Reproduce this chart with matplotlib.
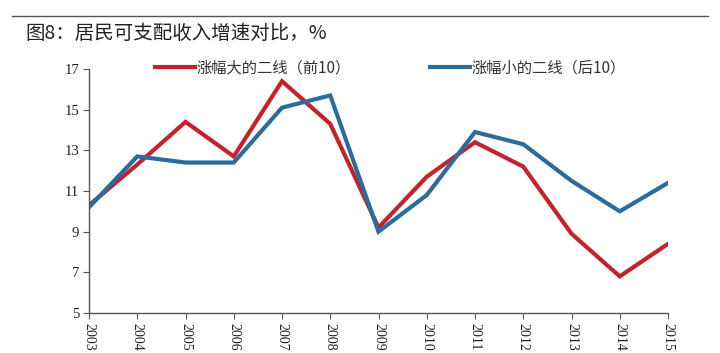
import matplotlib
matplotlib.use("Agg")
import matplotlib.pyplot as plt
from matplotlib.lines import Line2D

years = list(range(2003, 2016))
top10 = [10.3, 12.3, 14.4, 12.7, 16.4, 14.3, 9.2, 11.7, 13.4, 12.2, 8.9, 6.8, 8.4]
bottom10 = [10.2, 12.7, 12.4, 12.4, 15.1, 15.7, 9.0, 10.8, 13.9, 13.3, 11.5, 10.0, 11.4]
labels = ["涨幅大的二线（前10）", "涨幅小的二线（后10）"]
title = "图8：居民可支配收入增速对比，%"

RED = "#c4232b"
BLUE = "#2b6c9c"
CJK = ["Noto Sans CJK SC", "DejaVu Sans"]
SERIF = ["Liberation Serif", "DejaVu Serif"]

fig = plt.figure(figsize=(7.2, 3.53), dpi=100)
ax = fig.add_axes([89 / 720, 40 / 353, 579 / 720, 244 / 353])

ax.plot(years, top10, color=RED, lw=3, solid_joinstyle="miter", label=labels[0])
ax.plot(years, bottom10, color=BLUE, lw=3, solid_joinstyle="miter", label=labels[1])

ax.set_xlim(2003, 2015)
ax.set_ylim(5, 17)
ax.set_yticks(range(5, 18, 2))
ax.set_xticks(years)
ax.set_xticklabels([str(y) for y in years], rotation=270, family=SERIF, fontsize=10)
for t in ax.get_yticklabels():
    t.set_family(SERIF)
    t.set_fontsize(10.5)

for s in ("top", "right"):
    ax.spines[s].set_visible(False)
for s in ("left", "bottom"):
    ax.spines[s].set_color("#555555")
    ax.spines[s].set_linewidth(1)
ax.tick_params(axis="both", direction="out", length=4, width=0.8,
               color="#555555", labelcolor="#222222", pad=3)

handles = [Line2D([], [], color=RED, lw=3), Line2D([], [], color=BLUE, lw=3)]
leg = fig.legend(handles, labels, loc="center left",
                 bbox_to_anchor=(155 / 720, 285 / 353), ncol=2, frameon=False,
                 prop={"family": CJK, "size": 11}, handlelength=2.6,
                 handletextpad=0.12, columnspacing=5.2, borderpad=0,
                 borderaxespad=0)
for t in leg.get_texts():
    t.set_color("#333333")

fig.text(25 / 720, 1 - 33 / 353, title, family=CJK, fontsize=14,
         va="center", ha="left", color="#222222")
fig.add_artist(Line2D([12 / 720, 708 / 720], [1 - 16 / 353, 1 - 16 / 353],
                      color="#555555", lw=1))

fig.savefig("out.png", dpi=100)
